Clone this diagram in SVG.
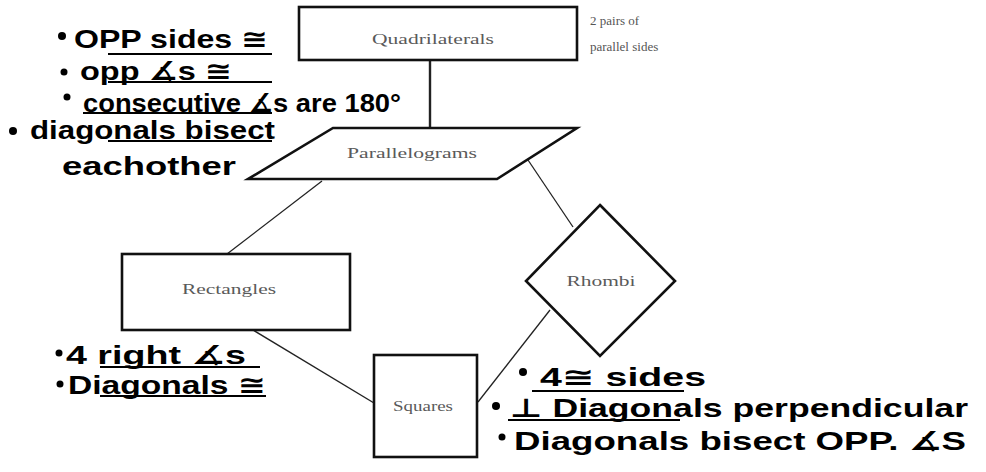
<svg xmlns="http://www.w3.org/2000/svg" width="986" height="472" viewBox="0 0 986 472">
<style>
.box{fill:#fff;stroke:#111;stroke-width:2.6}
.lbl{font-family:"Liberation Serif",serif;font-size:15px;fill:#5a5a5a;text-anchor:middle}
.note{font-family:"Liberation Serif",serif;font-size:13px;fill:#555}
.hw{font-family:"Liberation Sans","DejaVu Sans",sans-serif;fill:#000;font-size:26px;font-weight:bold}
.ul{stroke:#000;stroke-width:2;fill:none}
.bul{fill:#000}
</style>
<rect width="986" height="472" fill="#fff"/>
<g id="connectors" stroke="#222" fill="none">
<line x1="430" y1="60" x2="430" y2="128" stroke-width="2.4"/>
<line x1="322" y1="181" x2="227" y2="254" stroke-width="1.3"/>
<line x1="528" y1="160" x2="573" y2="227" stroke-width="1.3"/>
<line x1="253" y1="330" x2="374" y2="403" stroke-width="1.4"/>
<line x1="550" y1="310" x2="478" y2="402" stroke-width="1.3"/>
</g>
<g id="quadrilaterals">
<rect class="box" x="299" y="7" width="278" height="53"/>
<text class="lbl" x="433" y="44" textLength="122" lengthAdjust="spacingAndGlyphs">Quadrilaterals</text>
<text class="note" x="590" y="25">2 pairs of</text>
<text class="note" x="590" y="51">parallel sides</text>
</g>
<g id="parallelograms">
<polygon class="box" points="333,128 577,128 497,179 248,179"/>
<text class="lbl" x="412" y="158" textLength="130" lengthAdjust="spacingAndGlyphs">Parallelograms</text>
</g>
<g id="rectangles">
<rect class="box" x="122" y="254" width="228" height="76"/>
<text class="lbl" x="229" y="294" textLength="94" lengthAdjust="spacingAndGlyphs">Rectangles</text>
</g>
<g id="rhombi">
<polygon class="box" points="600,205 675,281 600,356 526,281"/>
<text class="lbl" x="601" y="286" textLength="69" lengthAdjust="spacingAndGlyphs">Rhombi</text>
</g>
<g id="squares">
<rect class="box" x="374" y="355" width="103" height="102"/>
<text class="lbl" x="423" y="411" textLength="60" lengthAdjust="spacingAndGlyphs">Squares</text>
</g>
<g id="notes-parallelogram">
<circle class="bul" cx="62" cy="36" r="4"/>
<text class="hw" x="74" y="48" font-size="30" textLength="194" lengthAdjust="spacingAndGlyphs">OPP sides ≅</text>
<line class="ul" x1="108" y1="54" x2="272" y2="54"/>
<circle class="bul" cx="64" cy="72" r="3.5"/>
<text class="hw" x="80" y="80" font-size="23" textLength="152" lengthAdjust="spacingAndGlyphs">opp ∡s ≅</text>
<line class="ul" x1="108" y1="82" x2="272" y2="82"/>
<circle class="bul" cx="67" cy="97" r="3.5"/>
<text class="hw" x="83" y="112" font-size="22" textLength="318" lengthAdjust="spacingAndGlyphs">consecutive ∡s are 180°</text>
<line class="ul" x1="83" y1="113" x2="272" y2="113"/>
<circle class="bul" cx="13" cy="131" r="4"/>
<text class="hw" x="30" y="139" font-size="25" textLength="245" lengthAdjust="spacingAndGlyphs">diagonals bisect</text>
<line class="ul" x1="108" y1="141" x2="272" y2="141"/>
<text class="hw" x="62" y="175" font-size="30" textLength="174" lengthAdjust="spacingAndGlyphs">eachother</text>
</g>
<g id="notes-rectangle">
<circle class="bul" cx="59" cy="353" r="3.5"/>
<text class="hw" x="66" y="364" textLength="180" lengthAdjust="spacingAndGlyphs">4 right ∡s</text>
<line class="ul" x1="100" y1="367" x2="260" y2="367"/>
<circle class="bul" cx="60" cy="384" r="3.5"/>
<text class="hw" x="68" y="394" font-size="25" textLength="198" lengthAdjust="spacingAndGlyphs">Diagonals ≅</text>
<line class="ul" x1="100" y1="396" x2="266" y2="396"/>
</g>
<g id="notes-square">
<circle class="bul" cx="523" cy="372" r="4"/>
<text class="hw" x="540" y="386" textLength="166" lengthAdjust="spacingAndGlyphs">4≅ sides</text>
<line class="ul" x1="532" y1="391" x2="684" y2="391"/>
<circle class="bul" cx="496" cy="406" r="4"/>
<text class="hw" x="510" y="417" textLength="458" lengthAdjust="spacingAndGlyphs">⊥ Diagonals perpendicular</text>
<line class="ul" x1="508" y1="420" x2="680" y2="420"/>
<circle class="bul" cx="502" cy="437" r="3.5"/>
<text class="hw" x="514" y="450" textLength="452" lengthAdjust="spacingAndGlyphs">Diagonals bisect OPP. ∡S</text>
</g>
</svg>
